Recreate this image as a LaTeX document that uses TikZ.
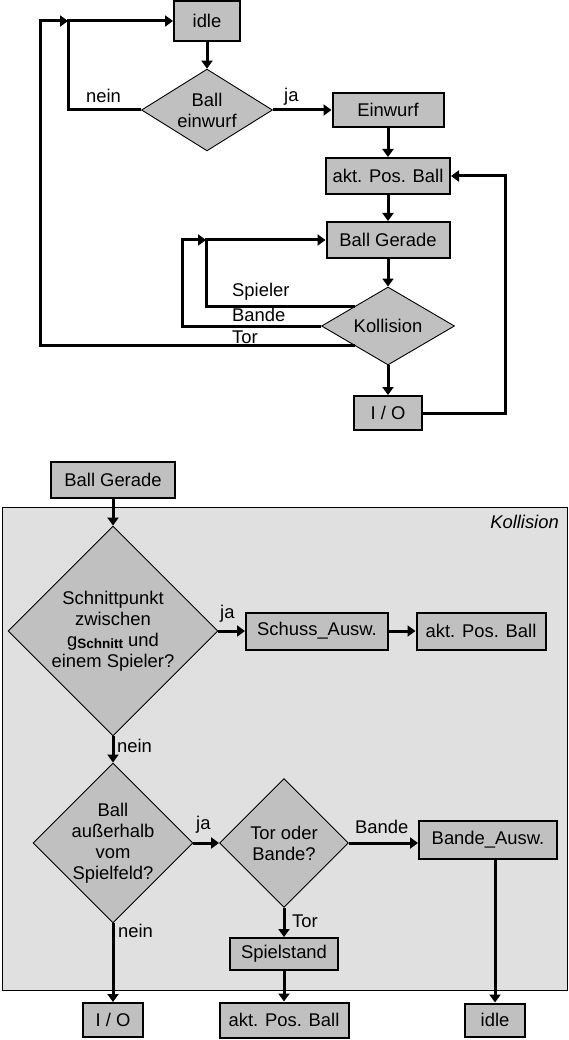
\documentclass[tikz,border=0pt]{standalone}
\usepackage{fontspec}
\setmainfont{Liberation Sans}
\usetikzlibrary{arrows.meta, shapes.geometric, calc}

\definecolor{boxgray}{RGB}{192,192,192}
\definecolor{areagray}{RGB}{224,224,224}

\tikzset{
    block/.style={draw, line width=2pt, fill=boxgray, inner sep=0pt, font=\fontsize{18.4}{21}\selectfont},
    decision/.style={diamond, draw, line width=0.9pt, fill=boxgray, inner sep=-3pt, align=center, font=\fontsize{18.4}{21}\selectfont},
    flow/.style={line width=3pt, -{Triangle[length=8pt, width=11pt]}},
    lbl/.style={inner sep=0pt, font=\fontsize{18.4}{21}\selectfont},
}

\begin{document}
\begin{tikzpicture}[x=1pt, y=-1pt]
        \useasboundingbox (0,0) rectangle (569,1040);

        % Hauptablauf
        \node[block, minimum width=66pt, minimum height=40pt] (idle) at (207,21) {idle};
        \node[decision, minimum width=131pt, minimum height=80pt] (einw) at (207,110) {Ball\\einwurf};
        \node[block, minimum width=111pt, minimum height=34pt] (einwurf) at (388,110) {Einwurf};
        \node[block, minimum width=124pt, minimum height=36pt] (akt) at (388,176) {akt. Pos. Ball};
        \node[block, minimum width=123pt, minimum height=36pt] (ballg) at (388,240) {Ball Gerade};
        \node[decision, minimum width=133pt, minimum height=78pt] (koll) at (388,326) {Kollision};
        \node[block, minimum width=68pt, minimum height=34pt] (io) at (388,413) {I / O};

        \coordinate (jA) at (68,21);
        \coordinate (torx) at (40,21);
        \coordinate (jB) at (206,240);
        \coordinate (bandex) at (182,240);
        \coordinate (rechts) at (505,176);

        \draw[flow] (idle.south) -- (einw.north);
        \draw[flow] (einw.east) -- (einwurf.west);
        \draw[flow] (einw.west) -| (jA) -- (idle.west);
        \draw[flow] (einwurf.south) -- (akt.north);
        \draw[flow] (akt.south) -- (ballg.north);
        \draw[flow] (ballg.south) -- (koll.north);
        \draw[flow] (koll.south) -- (io.north);
        \draw[flow] (io.east) -| (rechts) -- (akt.east);
        \draw[flow] (koll.north west) -| (jB) -- (ballg.west);
        \draw[flow] (koll.west) -| (bandex) -- (jB);
        \draw[flow] (koll.south west) -| (torx) -- (jA);

        \node[lbl, anchor=base west] (nein1) at (86,103) {nein};
        \node[lbl, anchor=base west] (ja1) at (284,102) {ja};
        \node[lbl, anchor=base west] (spieler) at (232,297) {Spieler};
        \node[lbl, anchor=base west] (bande1) at (232,321) {Bande};
        \node[lbl, anchor=base west] (tor1) at (232,343) {Tor};

        % Kollision im Detail
        \filldraw[fill=areagray, draw=black, line width=1pt] (2,507) rectangle (567,990);
        \node[lbl, font=\fontsize{18.4}{21}\selectfont\itshape, anchor=base east] (kolltitel) at (559,528) {Kollision};

        \node[block, minimum width=124pt, minimum height=36pt] (ballg2) at (113,480) {Ball Gerade};
        \node[decision, minimum width=210pt, minimum height=210pt] (schnitt) at (113,631)
            {Schnittpunkt\\zwischen\\g{\fontsize{13.5}{14}\selectfont\bfseries\raisebox{-2pt}{Schnitt}} und\\einem Spieler?};
        \node[block, minimum width=142pt, minimum height=37pt] (schuss) at (317,631) {Schuss\_Ausw.};
        \node[block, minimum width=129pt, minimum height=37pt] (akt2) at (481,631) {akt. Pos. Ball};
        \node[decision, minimum width=160pt, minimum height=160pt] (aussen) at (113,843) {Ball\\außerhalb\\vom\\Spielfeld?};
        \node[decision, minimum width=129pt, minimum height=129pt] (torbande) at (284,843) {Tor oder\\Bande?};
        \node[block, minimum width=138pt, minimum height=38pt] (bande) at (488,840) {Bande\_Ausw.};
        \node[block, minimum width=108pt, minimum height=32pt] (stand) at (284,954) {Spielstand};
        \node[block, minimum width=60pt, minimum height=34pt] (io2) at (113,1020) {I / O};
        \node[block, minimum width=129pt, minimum height=35pt] (akt3) at (284,1020) {akt. Pos. Ball};
        \node[block, minimum width=60pt, minimum height=33pt] (idle2) at (495,1020) {idle};

        \draw[flow] (ballg2.south) -- (schnitt.north);
        \draw[flow] (schnitt.east) -- (schuss.west);
        \draw[flow] (schuss.east) -- (akt2.west);
        \draw[flow] (schnitt.south) -- (aussen.north);
        \draw[flow] (aussen.east) -- (torbande.west);
        \draw[flow] (torbande.east) -- (torbande.east -| bande.west);
        \draw[flow] (bande.south -| idle2.north) -- (idle2.north);
        \draw[flow] (torbande.south) -- (stand.north);
        \draw[flow] (stand.south) -- (akt3.north);
        \draw[flow] (aussen.south) -- (io2.north);

        \node[lbl, anchor=base west] (ja2) at (220,618) {ja};
        \node[lbl, anchor=base west] (nein2) at (117,752) {nein};
        \node[lbl, anchor=base west] (ja3) at (196,829) {ja};
        \node[lbl, anchor=base west] (nein3) at (118,937) {nein};
        \node[lbl, anchor=base west] (bande2) at (355,833) {Bande};
        \node[lbl, anchor=base west] (tor2) at (292,927) {Tor};
\end{tikzpicture}
\end{document}
